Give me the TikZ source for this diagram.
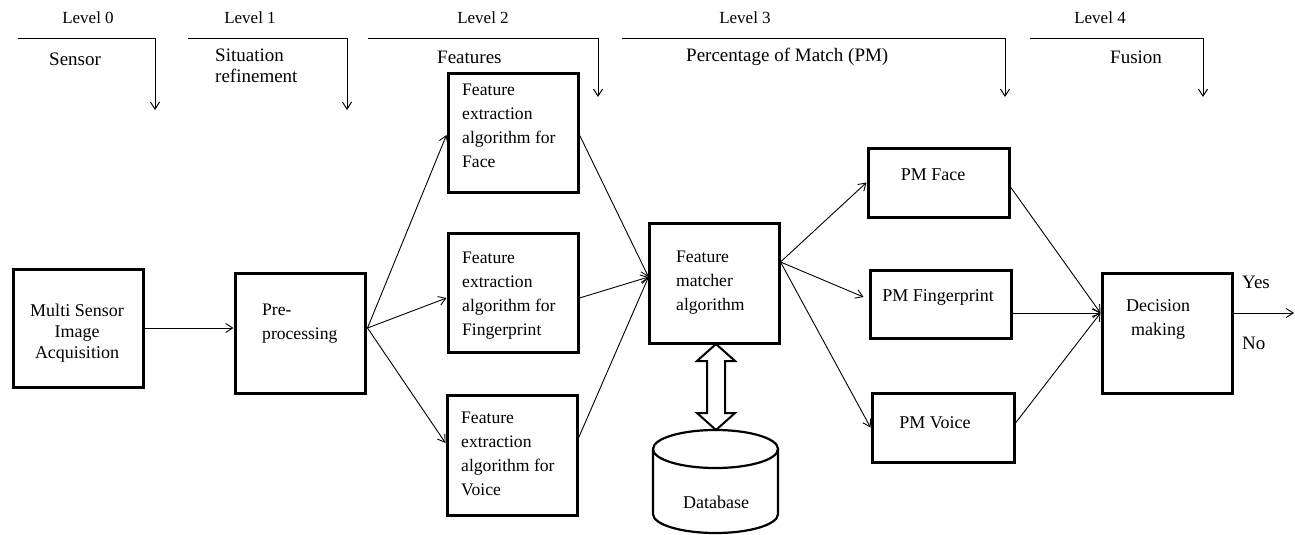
\documentclass[tikz,border=0pt]{standalone}
\usepackage{fontspec}
\setmainfont{Liberation Serif}
\usetikzlibrary{arrows.meta,calc}
\begin{document}
\begin{tikzpicture}[x=1pt,y=-1pt,
  box/.style={draw,line width=3pt,rectangle,inner sep=0pt},
  lbl/.style={inner sep=0pt,font=\fontsize{17}{22}\selectfont},
  sub/.style={inner sep=0pt,font=\fontsize{19}{21}\selectfont},
  txt/.style={inner sep=0pt,align=left,font=\fontsize{17.6}{24}\selectfont},
  ctxt/.style={inner sep=0pt,align=center,font=\fontsize{18}{21}\selectfont},
  conn/.style={line width=0.9pt,-{Straight Barb[length=7pt,width=9pt,line width=0.9pt]}},
  lvl/.style={line width=1pt,-{Straight Barb[length=7pt,width=9pt,line width=1pt]}}]
\useasboundingbox (0,0) rectangle (1295,535);

% level headers
\node[lbl] (l0) at (88,18) {Level 0};
\node[lbl] (l1) at (250,18) {Level 1};
\node[lbl] (l2) at (483,18) {Level 2};
\node[lbl] (l3) at (745,18) {Level 3};
\node[lbl] (l4) at (1100,18) {Level 4};
\node[sub,anchor=west] (s0) at (49,59) {Sensor};
\node[sub,anchor=north west,align=left] (s1) at (215,49) {Situation\\refinement};
\node[sub,anchor=west] (s2) at (437,57) {Features};
\node[sub,anchor=west] (s3) at (686,57) {Percentage of Match (PM)};
\node[sub,anchor=west] (s4) at (1110,57) {Fusion};

\coordinate (a0) at (18,39);  \coordinate (b0) at (155,39);  \coordinate (c0) at (155,110);
\coordinate (a1) at (188,39); \coordinate (b1) at (347,39);  \coordinate (c1) at (347,110);
\coordinate (a2) at (368,39); \coordinate (b2) at (598,39);  \coordinate (c2) at (598,97);
\coordinate (a3) at (622,39); \coordinate (b3) at (1005,39); \coordinate (c3) at (1005,97);
\coordinate (a4) at (1030,39);\coordinate (b4) at (1203,39); \coordinate (c4) at (1203,97);
\foreach \i in {0,...,4}{\draw[lvl] (a\i) -- (b\i) -- (c\i);}

% boxes
\node[box,minimum width=130,minimum height=118] (ms) at (78,328.5) {};
\node[ctxt] at (77,333) {Multi Sensor\\Image\\Acquisition};
\node[box,minimum width=130,minimum height=120] (pre) at (300,333) {};
\node[txt,anchor=north west] at (262,304) {Pre-\\processing};

\node[box,minimum width=130,minimum height=119] (fface) at (513,132.5) {};
\node[txt,anchor=north west] at (462,84) {Feature\\extraction\\algorithm for\\Face};
\node[box,minimum width=130,minimum height=119] (ffing) at (513,292.5) {};
\node[txt,anchor=north west] at (462,252) {Feature\\extraction\\algorithm for\\Fingerprint};
\node[box,minimum width=130,minimum height=120] (fvoice) at (512,455) {};
\node[txt,anchor=north west] at (461,412) {Feature\\extraction\\algorithm for\\Voice};

\node[box,minimum width=130,minimum height=120] (mat) at (714,283) {};
\node[txt,anchor=north west] at (676,251) {Feature\\matcher\\algorithm};

\node[box,minimum width=141,minimum height=69] (pmface) at (938.5,182.5) {};
\node[ctxt] at (933,175) {PM Face};
\node[box,minimum width=141,minimum height=68] (pmfing) at (940.5,304) {};
\node[ctxt] at (938,297) {PM Fingerprint};
\node[box,minimum width=142,minimum height=69] (pmvoice) at (943,427.5) {};
\node[ctxt] at (935,423) {PM Voice};

\node[box,minimum width=130,minimum height=120] (dec) at (1167,333) {};
\node[ctxt,font=\fontsize{18}{24}\selectfont] at (1158,319) {Decision\\making};
\node[sub,anchor=west] (yes) at (1242,282) {Yes};
\node[sub,anchor=west] (no) at (1242,343) {No};

% database
\draw[line width=2.2pt,fill=white] (653,449) -- (653,514) arc[start angle=180,end angle=0,x radius=62.5,y radius=19] -- (778,449);
\draw[line width=2.2pt] (715.5,449) ellipse[x radius=62.5,y radius=19];
\node[ctxt] (db) at (716,502) {Database};

% double arrow
\draw[line width=2pt,fill=white,line join=miter]
  (716,344) -- (735,361) -- (725,361) -- (725,413) -- (735,413) -- (716,430)
  -- (697,413) -- (707,413) -- (707,361) -- (697,361) -- cycle;

% connectors
\coordinate (preout) at ($(pre.east)+(1,-5)$);
\coordinate (matin) at ($(mat.west)+(1,-6)$);
\coordinate (matout) at ($(mat.east)+(0,-21)$);
\coordinate (decin) at ($(dec.west)+(0,-20)$);
\coordinate (out) at (1294,313);

\draw[conn] (ms.east |- 0,328) -- (pre.west |- 0,328);
\draw[conn] (preout) -- ($(fface.west)+(0,2.5)$);
\draw[conn] (preout) -- ($(ffing.west)+(0,5.5)$);
\draw[conn] (preout) -- ($(fvoice.west)+(0,-12)$);
\draw[conn] ($(fface.east)+(0,2.5)$) -- (matin);
\draw[conn] ($(ffing.east)+(0,5.5)$) -- (matin);
\draw[conn] ($(fvoice.east)+(0,-17)$) -- (matin);
\draw[conn] (matout) -- (pmface.west);
\draw[conn] (matout) -- ($(pmfing.west)+(-5,-7)$);
\draw[conn] (matout) -- (pmvoice.west);
\draw[conn] ($(pmface.east)+(0,4.5)$) -- (decin);
\draw[conn] ($(pmfing.east)+(0,9)$) -- (decin);
\draw[conn] ($(pmvoice.east)+(0,-4.5)$) -- (decin);
\draw[conn] (dec.east |- decin) -- (out);
\end{tikzpicture}
\end{document}
